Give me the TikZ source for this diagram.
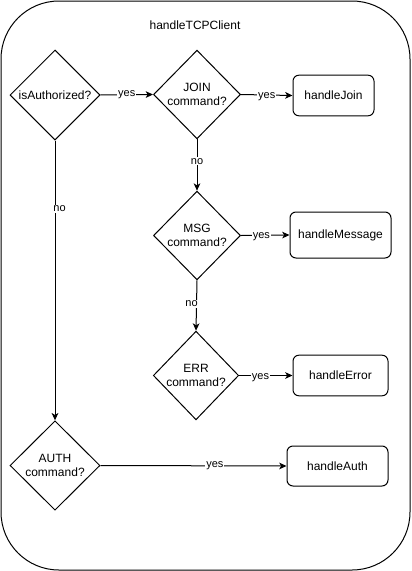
\documentclass[tikz,border=0pt]{standalone}
\usepackage{fontspec}
\setmainfont{Liberation Sans}
\usetikzlibrary{shapes.geometric,arrows.meta}

\tikzset{every picture/.style={line width=0.75pt}}

\begin{document}
\begin{tikzpicture}[x=0.75pt,y=0.75pt,yscale=-1,xscale=1,
  decision/.style={draw,shape=diamond,inner sep=0pt,minimum width=65.25pt,minimum height=66.5pt},
  process/.style={draw,rounded corners=4.5pt,minimum height=30.5pt,inner sep=0pt},
  txt/.style={align=center,inner sep=0.75pt,font=\fontsize{9pt}{11pt}\selectfont},
  elabel/.style={fill=white,inner sep=0.75pt,font=\fontsize{8.25pt}{9pt}\selectfont},
  flow/.style={-{Stealth[length=5.5pt,width=5pt,inset=1.5pt]}}]
\useasboundingbox (0,0) rectangle (411,571);

%Rounded Rect 
\draw [rounded corners=43.5pt]  (1,1) rectangle (410,570) ;
% Text Node
\node [txt] (title) at (195,25) {handleTCPClient};

%Shape: Diamond 
\node [decision,minimum width=67.5pt,minimum height=67.5pt] (isauth) at (55,95) {};
\node [txt] (isauth-t) at (isauth) {isAuthorized?};
%Shape: Diamond 
\node [decision] (join) at (197,94.5) {};
\node [txt] (join-t) at (join) {JOIN\\command?};
%Shape: Diamond 
\node [decision] (msg) at (197,235.5) {};
\node [txt] (msg-t) at (msg) {MSG\\command?};
%Shape: Diamond 
\node [decision,minimum width=64pt] (err) at (196,375.5) {};
\node [txt] (err-t) at (err) {ERR\\command?};
%Shape: Diamond 
\node [decision,minimum width=67.5pt,minimum height=67pt] (authcmd) at (55,465.5) {};
\node [txt] (authcmd-t) at (authcmd) {AUTH\\command?};

%Rounded Rect 
\node [process,minimum width=60.75pt] (hjoin) at (333.5,95.5) {};
\node [txt] (hjoin-t) at (hjoin) {handleJoin};
%Rounded Rect 
\node [process,minimum width=75.75pt,minimum height=34.5pt] (hmsg) at (340.5,235) {};
\node [txt] (hmsg-t) at (hmsg) {handleMessage};
%Rounded Rect 
\node [process,minimum width=71.25pt] (herr) at (340.5,375.5) {};
\node [txt] (herr-t) at (herr) {handleError};
%Rounded Rect 
\node [process,minimum width=75.75pt,minimum height=30pt] (hauth) at (337.5,466) {};
\node [txt] (hauth-t) at (hauth) {handleAuth};

%Straight Lines 
\draw [flow] (isauth.east) -- node [elabel] (yes1) {yes} (join.west) ;
%Straight Lines 
\draw [flow] (join.east) -- node [elabel,yshift=-1.5pt] (yes2) {yes} (hjoin.west) ;
%Straight Lines 
\draw [flow] (join.south) -- node [elabel,pos=0.43] (no1) {no} (msg.north) ;
%Straight Lines 
\draw [flow] (msg.east) -- node [elabel,pos=0.42,yshift=-1pt] (yes3) {yes} (hmsg.west) ;
%Straight Lines 
\draw [flow] (msg.south) -- node [elabel,pos=0.47,xshift=-3.75pt] (no2) {no} (err.north) ;
%Straight Lines 
\draw [flow] (err.east) -- node [elabel,pos=0.4,yshift=-1.5pt] (yes4) {yes} (herr.west) ;
%Straight Lines 
\draw [flow] (isauth.south) -- node [elabel,pos=0.245,xshift=3.4pt] (no3) {no} (authcmd.north) ;
%Straight Lines 
\draw [flow] (authcmd.east) -- node [elabel,pos=0.615] (yes5) {yes} (hauth.west) ;

\end{tikzpicture}
\end{document}
